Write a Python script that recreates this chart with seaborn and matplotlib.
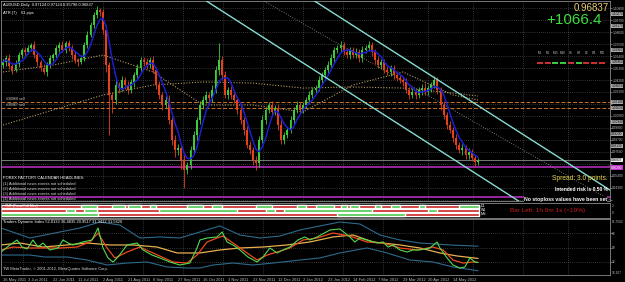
import numpy as np
import pandas as pd
import matplotlib
matplotlib.use("Agg")
import matplotlib.pyplot as plt
import seaborn as sns
from matplotlib.patches import Rectangle
from matplotlib.transforms import blended_transform_factory

# ---------------- data ----------------
# daily AUDUSD candles, sampled every 2 trading days (bar index 0..152)
closes = [1.0586, 1.0622, 1.0549, 1.0512, 1.0567, 1.0650, 1.0696, 1.0678,
          1.0714, 1.0742, 1.0650, 1.0586, 1.0530, 1.0494, 1.0558, 1.0622,
          1.0650, 1.0714, 1.0742, 1.0696, 1.0760, 1.0714, 1.0650, 1.0604,
          1.0586, 1.0622, 1.0742, 1.0834, 1.0926, 1.1018, 1.1064, 1.1046,
          1.0880, 1.0558, 1.0282, 1.0236, 1.0374, 1.0346, 1.0420, 1.0374,
          1.0328, 1.0402, 1.0466, 1.0530, 1.0604, 1.0586, 1.0558, 1.0604,
          1.0512, 1.0374, 1.0282, 1.0190, 1.0236, 1.0052, 0.9868, 0.9776,
          0.9794, 0.9684, 0.9592, 0.9638, 0.9776, 0.9914, 1.0052, 1.0190,
          1.0236, 1.0282, 1.0254, 1.0328, 1.0512, 1.0604, 1.0466, 1.0282,
          1.0328, 1.0282, 1.0236, 1.0144, 1.0052, 0.9960, 0.9822, 0.9776,
          0.9684, 0.9656, 0.9868, 1.0052, 1.0144, 1.0190, 1.0126, 1.0162,
          1.0006, 0.9868, 0.9914, 0.9960, 1.0052, 1.0144, 1.0190, 1.0144,
          1.0190, 1.0236, 1.0282, 1.0328, 1.0346, 1.0420, 1.0466, 1.0512,
          1.0558, 1.0622, 1.0696, 1.0714, 1.0742, 1.0678, 1.0650, 1.0696,
          1.0650, 1.0678, 1.0622, 1.0696, 1.0714, 1.0742, 1.0678, 1.0604,
          1.0558, 1.0586, 1.0512, 1.0494, 1.0530, 1.0466, 1.0438, 1.0420,
          1.0402, 1.0328, 1.0282, 1.0310, 1.0282, 1.0328, 1.0346, 1.0310,
          1.0346, 1.0374, 1.0420, 1.0328, 1.0190, 1.0098, 1.0006, 0.9960,
          0.9886, 0.9822, 0.9776, 0.9794, 0.9730, 0.9758, 0.9702, 0.9666, 0.9684]
first_open = 1.0560
hi_wick_pips = [30, 25, 40, 20, 35, 30, 20, 25, 30, 15, 40, 25, 20, 35, 30, 25,
                20, 30, 25, 35, 20, 30, 25, 40, 20, 30, 25, 35, 30, 25, 40, 20,
                30, 45, 30, 25, 60, 30, 35, 25, 40, 30, 25, 35, 30, 25, 40, 30,
                35, 25, 40, 30, 35, 45, 30, 50, 40, 35, 45, 30, 40, 35, 30, 40,
                35, 40, 30, 45, 40, 160, 35, 40, 30, 35, 45, 25, 40, 30, 35, 40,
                30, 40, 35, 45, 30, 25, 40, 30, 35, 45, 30, 25, 40, 30, 35, 30,
                25, 30, 35, 25, 30, 40, 25, 30, 35, 40, 30, 25, 35, 30, 40, 25,
                30, 35, 25, 40, 30, 35, 25, 30, 40, 30, 25, 35, 30, 25, 40, 30,
                25, 35, 30, 40, 25, 30, 35, 50, 30, 25, 40, 30, 25, 35, 30, 40,
                30, 35, 25, 40, 30, 35, 25, 30, 20]
lo_wick_pips = [25, 35, 30, 40, 20, 30, 25, 35, 20, 30, 25, 40, 30, 20, 35, 25,
                30, 25, 35, 20, 30, 25, 40, 30, 35, 20, 30, 25, 20, 30, 25, 35,
                40, 60, 370, 120, 35, 45, 30, 40, 35, 30, 45, 25, 30, 40, 35, 30,
                30, 40, 35, 45, 30, 40, 50, 60, 45, 80, 165, 40, 35, 30, 45, 35,
                40, 30, 35, 40, 30, 45, 35, 30, 40, 35, 30, 40, 35, 45, 30, 40,
                50, 60, 35, 30, 40, 25, 35, 30, 45, 40, 35, 30, 25, 40, 30, 35,
                30, 25, 35, 30, 40, 25, 30, 35, 25, 30, 40, 30, 35, 25, 30, 35,
                25, 30, 40, 35, 30, 25, 35, 40, 30, 35, 25, 30, 40, 35, 30, 25,
                35, 30, 40, 25, 35, 30, 45, 30, 25, 35, 30, 40, 45, 35, 40, 30,
                35, 40, 30, 45, 35, 40, 30, 35, 25]

date_bars = [0, 8, 16, 24, 32, 40, 48, 56, 64, 72, 80, 88, 96, 104, 112, 120, 128, 136, 144]
date_labels = ["16 May 2011", "3 Jun 2011", "22 Jun 2011", "11 Jul 2011", "2 Aug 2011",
               "21 Aug 2011", "8 Sep 2011", "27 Sep 2011", "16 Oct 2011", "3 Nov 2011",
               "23 Nov 2011", "12 Dec 2011", "2 Jan 2012", "23 Jan 2012", "14 Feb 2012",
               "7 Mar 2012", "29 Mar 2012", "20 Apr 2012", "14 May 2012"]

price_ticks = [1.1080, 1.0970, 1.0860, 1.0750, 1.0640, 1.0530, 1.0420, 1.0310, 1.0200,
               1.0090, 0.9980, 0.9870, 0.9760, 0.9650, 0.9540, 0.9430, 0.9320]
price_tick_labels = ["1.10800", "1.09700", "1.08600", "1.07500", "1.06400", "1.05300",
                     "1.04200", "1.03100", "", "1.00900", "0.99800", "0.98700", "0.97600",
                     "", "0.95400", "0.94300", ""]

# long moving averages (dotted), read at knots
ma_bars = [0, 16, 32, 48, 64, 80, 96, 112, 128, 144, 152]
ma_mid = [1.0494, 1.0558, 1.0650, 1.0494, 1.0190, 1.0190, 1.0126, 1.0374, 1.0494, 1.0282, 1.0236]
ma_slow = [1.0006, 1.0144, 1.0282, 1.0374, 1.0402, 1.0392, 1.0346, 1.0356, 1.0346, 1.0300, 1.0273]

# trend channel (bar index, price)
chan_a_bars, chan_a_price = [64.6, 167.0], [1.1156, 0.9270]
chan_b_bars, chan_b_price = [99.2, 194.2], [1.1156, 0.9408]
chan_m_bars, chan_m_price = [82.9, 194.2], [1.1156, 0.9316]

sell_levels = [1.0218, 1.0162]
sell_labels = ["#30968 sell", "#30967 sell"]
magenta_levels = [0.9620, 0.9344]
bid = 0.96837
axis_boxes = [1.1027, 1.0917, 1.0696, 1.0586, 1.0365, 1.0034, 0.9923, 0.9813]

# multi-timeframe trend bars: green segments (start bar, end bar); rest red
row_names = ["D1", "W1", "MN"]
green_d1 = [(25, 30), (35, 39), (40, 44), (47, 49), (59, 64), (67, 70), (81, 86), (94, 97),
            (100, 106), (108, 110), (111, 114), (119, 121), (124, 127), (133, 135), (146, 152.3)]
green_w1 = [(20, 23), (26, 30), (50, 75), (84, 87), (90, 118), (136, 139)]
green_mn = [(-0.6, 30.4), (106.9, 128.6)]

tf_names = ["M1", "M5", "M15", "M30", "H1", "H4", "D1", "W1", "MN"]
tf_up = [False, False, True, True, False, True, False, False, False]

# Traders Dynamic Index lines (bar index, value)
tdi_green_x = [-0.6, 2.2, 4.5, 6.1, 7.7, 9.6, 11.2, 12.8, 15.0, 17.6, 19.2, 20.8, 22.4, 25.6,
               28.5, 30.4, 32.0, 33.6, 35.2, 36.8, 39.7, 42.9, 44.8, 47.7, 50.2, 53.4, 56.6,
               59.8, 62.1, 63.0, 65.3, 68.5, 70.1, 71.7, 73.6, 75.8, 78.4, 81.3, 83.2, 85.4,
               87.7, 89.6, 91.8, 94.4, 96.6, 98.2, 100.5, 104.6, 107.8, 111.0, 112.6, 114.2,
               116.5, 119.7, 121.6, 123.2, 124.8, 127.0, 129.3, 131.2, 133.4, 136.6, 138.9,
               139.8, 142.1, 144.0, 146.2, 147.8, 149.4, 151.0, 152.0]
tdi_green_y = [44.6, 53.5, 59.8, 50.9, 48.4, 59.8, 50.9, 56.0, 47.2, 49.7, 59.8, 56.0, 53.5, 57.3,
               59.8, 74.9, 49.7, 37.1, 32.0, 38.3, 53.5, 56.0, 47.2, 40.8, 37.1, 32.0, 28.2,
               30.7, 49.7, 59.8, 62.3, 63.6, 69.9, 57.3, 53.5, 47.2, 38.3, 32.0, 38.3, 49.7,
               43.4, 47.2, 50.9, 59.8, 63.6, 59.8, 63.6, 72.4, 73.7, 63.6, 57.3, 62.3,
               59.8, 56.0, 57.3, 50.9, 53.5, 47.2, 44.6, 47.2, 47.2, 49.7, 57.3,
               49.7, 37.1, 28.2, 24.4, 25.7, 37.1, 32.0, 31.3]
tdi_red_x = [-0.6, 3.2, 8.6, 12.8, 18.2, 23.7, 27.8, 30.4, 33.3, 35.8, 39.7, 43.8, 48.0, 54.4,
             58.9, 62.1, 65.3, 68.5, 70.4, 73.6, 78.1, 81.3, 84.5, 87.7, 91.8, 96.0, 100.5,
             105.6, 111.0, 116.5, 121.6, 127.0, 132.5, 137.6, 140.8, 144.0, 147.2, 150.4, 152.0]
tdi_red_y = [47.2, 50.9, 49.7, 49.7, 49.7, 50.9, 57.3, 68.6, 49.7, 37.1, 44.6, 50.9, 43.4, 32.0,
             30.7, 40.8, 57.3, 62.3, 64.8, 56.0, 43.4, 34.5, 40.8, 44.6, 49.7, 59.8, 62.3,
             68.6, 64.8, 57.3, 56.0, 49.7, 47.2, 50.9, 47.2, 34.5, 30.7, 32.0, 31.6]
tdi_yel_x = [-0.6, 5.4, 12.8, 20.5, 26.9, 34.2, 41.6, 49.3, 55.7, 63.0, 69.4, 75.8, 83.2, 90.9,
             98.2, 105.6, 112.0, 118.4, 127.0, 133.4, 139.8, 145.3, 152.0]
tdi_yel_y = [53.5, 56.0, 50.9, 53.5, 56.0, 53.5, 53.5, 50.9, 43.4, 43.4, 47.2, 49.7, 50.9, 53.5,
             57.3, 63.6, 66.1, 57.3, 53.5, 49.7, 43.4, 39.6, 36.5]
tdi_up_x = [-0.6, 8.6, 13.4, 18.2, 24.6, 31.0, 37.4, 43.8, 50.2, 56.6, 63.0, 69.4, 75.8, 82.2,
            88.6, 95.0, 101.4, 107.8, 114.2, 120.6, 127.0, 133.4, 143.0, 152.0]
tdi_up_y = [74.9, 62.3, 66.1, 69.9, 74.9, 82.5, 78.7, 62.3, 63.6, 62.3, 69.9, 77.5, 66.1, 62.3,
            64.8, 72.4, 77.5, 82.5, 80.0, 66.1, 59.8, 56.0, 53.5, 52.0]
tdi_lo_x = [-0.6, 8.6, 13.4, 20.5, 26.9, 33.3, 39.7, 46.1, 52.5, 58.9, 63.0, 67.2, 73.6, 80.0,
            86.4, 95.0, 101.4, 107.8, 116.5, 122.9, 130.2, 137.6, 144.0, 152.0]
tdi_lo_y = [40.8, 40.8, 38.3, 38.3, 34.5, 28.2, 30.7, 32.0, 25.7, 24.4, 24.4, 28.2, 30.7, 28.2,
            30.7, 34.5, 37.1, 43.4, 49.7, 43.4, 34.5, 32.0, 25.7, 20.95]
tdi_levels = [68, 50, 32]

# vertical grid positions (bar index)
vgrid = [6.4, 19.2, 32, 44.8, 57.6, 70.4, 83.2, 96, 108.8, 121.6, 136, 150.4, 166.4, 180.8]

# ---------------- style ----------------
sns.set_theme(style="dark", rc={
    "axes.facecolor": "black", "figure.facecolor": "black",
    "axes.edgecolor": "#8a8a8a", "axes.linewidth": 0.6,
    "grid.color": "#6a6a6a", "text.color": "white",
    "xtick.color": "#bdbdbd", "ytick.color": "#bdbdbd"})
plt.rcParams["font.family"] = ["Liberation Sans", "DejaVu Sans"]

W, H = 625, 282
fig = plt.figure(figsize=(6.25, 2.82), dpi=100)
fig.patch.set_facecolor("black")


def ax_px(x0, y0, x1, y1):
    return fig.add_axes([x0 / W, 1 - y1 / H, (x1 - x0) / W, (y1 - y0) / H])


def ftext(x, y, s, **kw):
    kw.setdefault("va", "center")
    return fig.text(x / W, 1 - y / H, s, **kw)


XL = (-0.64, 194.24)
GRID_LS = (0, (1, 2))
UP, DN = "#3ccc3c", "#e6401c"
AX_FS = 2.3

# ---------------- main price panel ----------------
ax = ax_px(1, 1, 610, 201)
ax.set_xlim(*XL)
ax.set_ylim(0.9307, 1.1147)

closes_a = np.array(closes)
opens = np.r_[first_open, closes_a[:-1]]
idx = np.arange(len(closes_a))
hi = np.maximum(opens, closes_a) + np.array(hi_wick_pips) * 0.0001
lo = np.minimum(opens, closes_a) - np.array(lo_wick_pips) * 0.0001
cols = np.where(closes_a >= opens, UP, DN)

ax.set_yticks(price_ticks)
ax.set_yticklabels(price_tick_labels)
ax.set_xticks(vgrid)
ax.set_xticklabels([])
ax.yaxis.tick_right()
ax.tick_params(axis="y", labelsize=AX_FS, length=1.2, pad=0.4, width=0.4, colors="#bdbdbd")
ax.tick_params(axis="x", length=0)
ax.grid(True, color="#646464", linestyle=GRID_LS, linewidth=0.5)
ax.set_axisbelow(True)

for lvl, lab in zip(sell_levels, sell_labels):
    ax.axhline(lvl, color="#c8742c", lw=0.7, ls=(0, (4, 2)), zorder=1)
    ax.text(1.0, lvl + 0.0009, lab, fontsize=2.6, color="#d0d0d0", va="bottom")
ax.axhline(bid, color="#8c8c8c", lw=0.6, zorder=1)
for lvl in magenta_levels:
    ax.axhline(lvl, color="#c030c8", lw=1.1, zorder=1)

sns.lineplot(x=ma_bars, y=ma_slow, ax=ax, color="#b49c62", lw=0.8, linestyle=(0, (1, 1.5)), legend=False)
sns.lineplot(x=ma_bars, y=ma_mid, ax=ax, color="#b49c62", lw=0.8, linestyle=(0, (1, 1.5)), legend=False)
sns.lineplot(x=chan_m_bars, y=chan_m_price, ax=ax, color="#9a9a9a", lw=0.6, linestyle=(0, (1, 2)), legend=False)

ax.vlines(idx, lo, hi, colors=cols, lw=0.6, zorder=3)
ax.bar(idx, np.clip(np.abs(closes_a - opens), 0.0005, None), bottom=np.minimum(opens, closes_a),
       width=0.62, color=cols, linewidth=0, zorder=4)

ma_fast = pd.Series(closes_a).rolling(5, min_periods=1).mean()
sns.lineplot(x=idx, y=ma_fast.values, ax=ax, color="#1e1ed2", lw=1.1, legend=False, zorder=5)

sns.lineplot(x=chan_a_bars, y=chan_a_price, ax=ax, color="#86dcd2", lw=1.0, legend=False, zorder=6)
sns.lineplot(x=chan_b_bars, y=chan_b_price, ax=ax, color="#86dcd2", lw=1.0, legend=False, zorder=6)
ax.set_xlabel("")
ax.set_ylabel("")

# right-axis boxed labels
bt = blended_transform_factory(ax.transAxes, ax.transData)
for p in axis_boxes + sell_levels:
    ax.text(1.002, p, "%.5f" % p, transform=bt, fontsize=AX_FS, color="black", va="center",
            bbox=dict(fc="#a8a8a8", ec="none", pad=0.3), clip_on=False)
ax.text(1.002, bid, "%.5f" % bid, transform=bt, fontsize=AX_FS, color="black", va="center",
        bbox=dict(fc="#e8e8e8", ec="none", pad=0.3), clip_on=False)
ax.text(1.002, magenta_levels[0] - 0.0008, "%.5f" % magenta_levels[0], transform=bt, fontsize=AX_FS,
        color="white", va="center", bbox=dict(fc="#c030c8", ec="none", pad=0.3), clip_on=False)

# ---------------- trend bars panel ----------------
ax2 = ax_px(1, 203, 610, 218)
ax2.set_xlim(*XL)
ax2.set_ylim(0, 15)
ax2.set_xticks([])
ax2.set_yticks([])
row_y = [(9.8, 3.6), (5.8, 3.6), (1.8, 3.6)]
for (y0, h), greens, name in zip(row_y, [green_d1, green_w1, green_mn], row_names):
    ax2.broken_barh([(-0.64, 152.94)], (y0, h), facecolors="#c81e1e")
    ax2.broken_barh([(s, e - s) for s, e in greens], (y0, h), facecolors="#48c848")
    ax2.text(152.8, y0 + h / 2, name, fontsize=2.5, color="white", va="center")
ax2.text(0.5, 11.6, "TMT (Trend Full Mtrs)", fontsize=2.4, color="white", va="center")
ftext(510, 210.5, "Bar Left: 1h 0m 1s (<10%)", fontsize=4.6, color="#c81e1e")
ftext(612, 206, "2", fontsize=AX_FS, color="#bdbdbd")
ftext(612, 213, "0", fontsize=AX_FS, color="#bdbdbd")

# ---------------- TDI panel ----------------
ax3 = ax_px(1, 219, 610, 275)
ax3.set_xlim(*XL)
ax3.set_ylim(15.58, 86.3)
ax3.set_yticks(tdi_levels)
ax3.set_yticklabels([str(v) for v in tdi_levels])
ax3.yaxis.tick_right()
ax3.tick_params(axis="y", labelsize=AX_FS, length=1.2, pad=0.4, width=0.4, colors="#bdbdbd")
ax3.set_xticks(vgrid, minor=True)
ax3.set_xticks(date_bars)
ax3.set_xticklabels(date_labels)
for t in ax3.get_xticklabels():
    t.set_ha("left")
ax3.tick_params(axis="x", which="major", labelsize=2.9, length=1.5, pad=0.8, width=0.4, colors="#bdbdbd")
ax3.tick_params(axis="x", which="minor", length=0)
ax3.grid(True, which="minor", axis="x", color="#646464", linestyle=GRID_LS, linewidth=0.5)
ax3.grid(True, which="major", axis="y", color="#646464", linestyle=GRID_LS, linewidth=0.5)
ax3.grid(False, which="major", axis="x")

sns.lineplot(x=tdi_up_x, y=tdi_up_y, ax=ax3, color="#2d6a8c", lw=0.8, legend=False)
sns.lineplot(x=tdi_lo_x, y=tdi_lo_y, ax=ax3, color="#2d6a8c", lw=0.8, legend=False)
sns.lineplot(x=tdi_yel_x, y=tdi_yel_y, ax=ax3, color="#e8b050", lw=0.9, legend=False)
sns.lineplot(x=tdi_red_x, y=tdi_red_y, ax=ax3, color="#f04a1c", lw=0.9, legend=False)
sns.lineplot(x=tdi_green_x, y=tdi_green_y, ax=ax3, color="#50dc50", lw=0.8, legend=False)
ax3.set_xlabel("")
ax3.set_ylabel("")
ftext(611.5, 222, "81.7502", fontsize=AX_FS, color="#bdbdbd", ha="left")
ftext(611.5, 273, "16.107", fontsize=AX_FS, color="#bdbdbd", ha="left")

for a in (ax, ax2, ax3):
    for s in a.spines.values():
        s.set_color("#8a8a8a")
        s.set_linewidth(0.6)

# ---------------- texts ----------------
ftext(3, 5, "AUDUSD,Daily  0.97124 0.97124 0.95796 0.96837", fontsize=2.9, color="white")
ftext(3, 13, "ATR (7)", fontsize=2.9, color="white")
ftext(21, 13, "61 pips", fontsize=2.9, color="white")
ftext(609, 8, "0.96837", fontsize=7, color="#e8d070", ha="right")
ftext(602, 20, "+1066.4", fontsize=11, color="#3cdc3c", ha="right")

for k, (name, upv) in enumerate(zip(tf_names, tf_up)):
    x0 = 537 + k * 7.7
    ftext(x0 + 3, 53, name, fontsize=2.2, color="#c8c8c8", ha="center")
    fig.add_artist(Rectangle((x0 / W, 1 - 63.5 / H), 6 / W, 2 / H, transform=fig.transFigure,
                             facecolor="#3cc83c" if upv else "#c83030", edgecolor="none"))

ftext(3, 178, "FOREX FACTORY CALENDAR HEADLINES:", fontsize=2.9, color="white")
for k in range(4):
    ftext(3, 184 + 5 * k, "(%d) Additional news events not scheduled" % (k + 1), fontsize=2.9, color="#d8d8d8")

ftext(608, 179, "Spread: 3.0 points.", fontsize=4.8, color="#e8d44a", ha="right")
ftext(608, 189.5, "Intended risk is 0.50 %", fontsize=3.5, color="white", ha="right", fontweight="bold")
ftext(607, 199, "No stoploss values have been set", fontsize=3.7, color="white", ha="right",
      fontweight="bold", bbox=dict(fc="black", ec="none", pad=0.2))
ftext(3, 222.5, "Traders Dynamic Index 52.0133 36.4835 20.9517 31.3412 31.5626", fontsize=2.9, color="white")
ftext(3, 269, "TW MetaTrader, \u00a9 2001-2012, MetaQuotes Software Corp.", fontsize=2.9, color="#d8d8d8")

fig.savefig("out.png", dpi=100, facecolor="black")
